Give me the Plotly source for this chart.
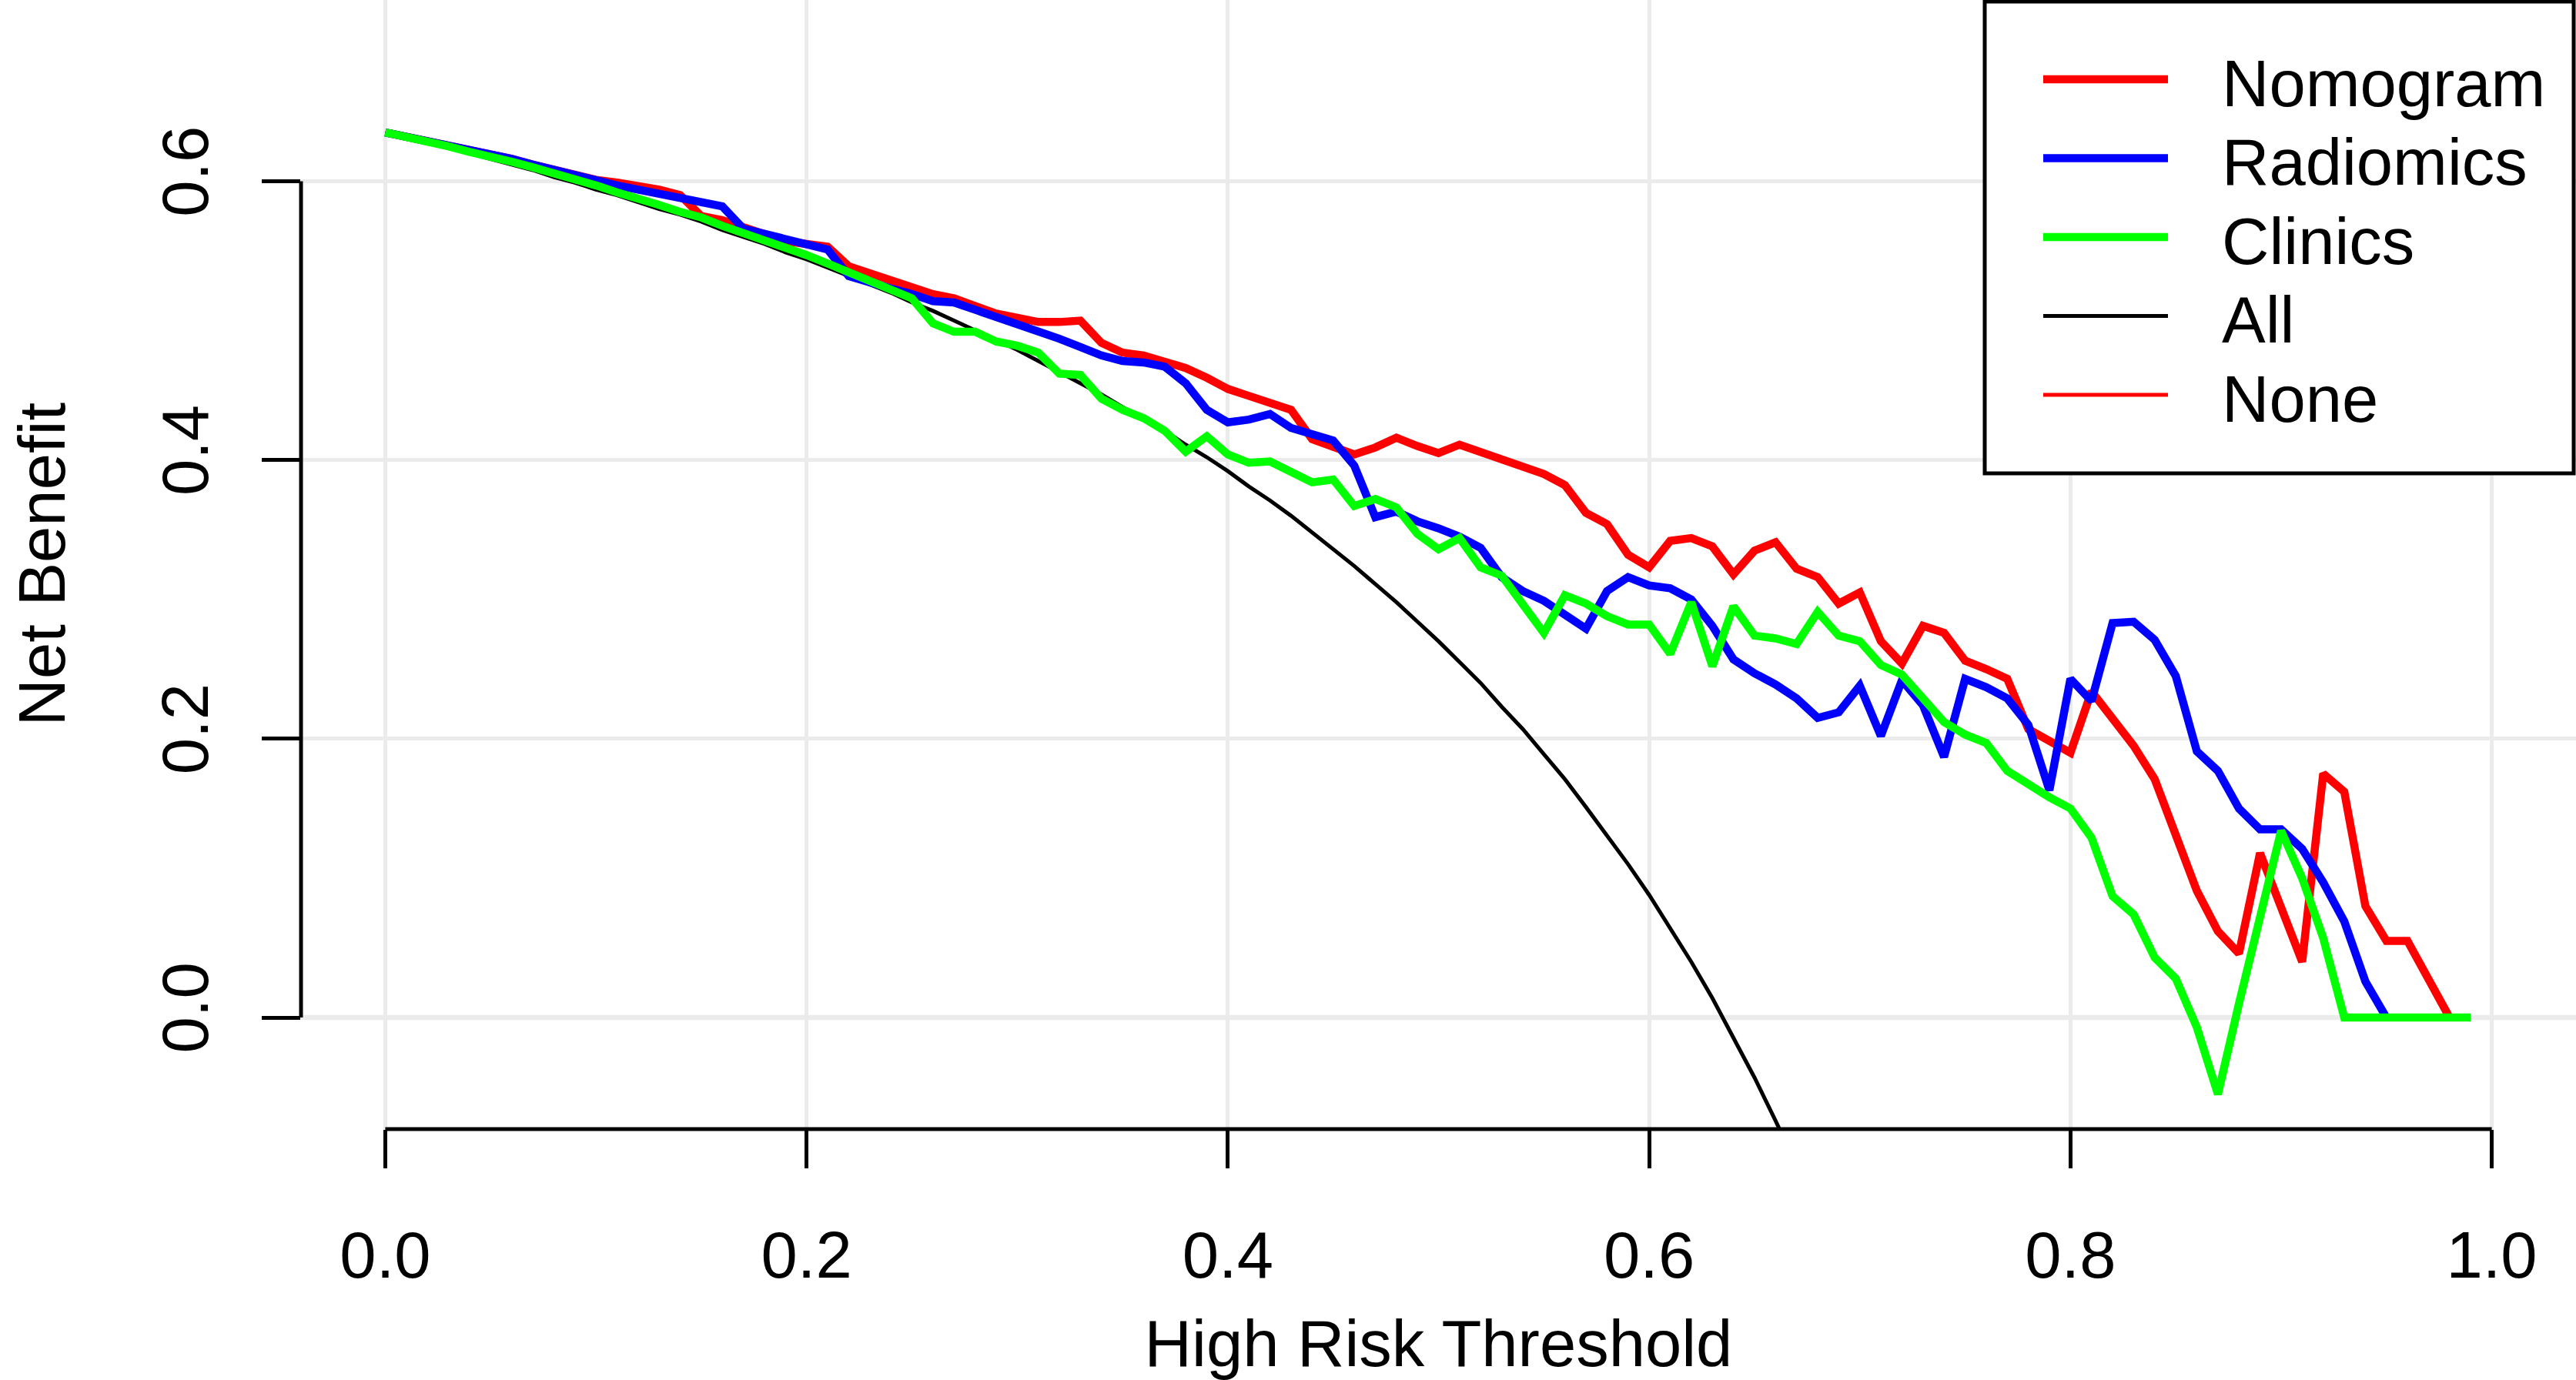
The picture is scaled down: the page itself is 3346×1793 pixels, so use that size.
import plotly.graph_objects as go

# decision curve data
thresholds = [
    0.00, 0.01, 0.02, 0.03, 0.04, 0.05, 0.06, 0.07, 0.08, 0.09,
    0.10, 0.11, 0.12, 0.13, 0.14, 0.15, 0.16, 0.17, 0.18, 0.19,
    0.20, 0.21, 0.22, 0.23, 0.24, 0.25, 0.26, 0.27, 0.28, 0.29,
    0.30, 0.31, 0.32, 0.33, 0.34, 0.35, 0.36, 0.37, 0.38, 0.39,
    0.40, 0.41, 0.42, 0.43, 0.44, 0.45, 0.46, 0.47, 0.48, 0.49,
    0.50, 0.51, 0.52, 0.53, 0.54, 0.55, 0.56, 0.57, 0.58, 0.59,
    0.60, 0.61, 0.62, 0.63, 0.64, 0.65, 0.66, 0.67, 0.68, 0.69,
    0.70, 0.71, 0.72, 0.73, 0.74, 0.75, 0.76, 0.77, 0.78, 0.79,
    0.80, 0.81, 0.82, 0.83, 0.84, 0.85, 0.86, 0.87, 0.88, 0.89,
    0.90, 0.91, 0.92, 0.93, 0.94, 0.95, 0.96, 0.97, 0.98, 0.99,
]

nomogram = [
    0.635, 0.632, 0.629, 0.626, 0.623, 0.620, 0.616, 0.612, 0.608, 0.604,
    0.601, 0.599, 0.597, 0.594, 0.590, 0.575, 0.572, 0.567, 0.562, 0.557,
    0.555, 0.553, 0.539, 0.534, 0.529, 0.524, 0.519, 0.516, 0.510, 0.505,
    0.502, 0.499, 0.499, 0.500, 0.484, 0.477, 0.475, 0.470, 0.466, 0.459,
    0.451, 0.446, 0.441, 0.436, 0.415, 0.409, 0.404, 0.409, 0.416, 0.410,
    0.405, 0.411, 0.406, 0.400, 0.396, 0.390, 0.382, 0.362, 0.354, 0.332,
    0.323, 0.342, 0.344, 0.338, 0.318, 0.335, 0.341, 0.322, 0.316, 0.297,
    0.305, 0.270, 0.254, 0.281, 0.276, 0.256, 0.250, 0.243, 0.207, 0.198,
    0.190, 0.234, 0.215, 0.195, 0.171, 0.130, 0.091, 0.062, 0.046, 0.118,
    0.079, 0.040, 0.175, 0.162, 0.080, 0.055, 0.055, 0.026, 0.000,
]

radiomics = [
    0.635, 0.632, 0.629, 0.626, 0.623, 0.620, 0.616, 0.612, 0.608, 0.604,
    0.600, 0.597, 0.594, 0.591, 0.589, 0.585, 0.582, 0.566, 0.562, 0.558,
    0.554, 0.551, 0.532, 0.527, 0.523, 0.519, 0.514, 0.513, 0.508, 0.503,
    0.498, 0.492, 0.487, 0.481, 0.475, 0.471, 0.470, 0.467, 0.455, 0.436,
    0.427, 0.429, 0.433, 0.423, 0.419, 0.414, 0.396, 0.359, 0.363, 0.356,
    0.351, 0.345, 0.337, 0.316, 0.306, 0.299, 0.289, 0.279, 0.306, 0.316,
    0.310, 0.308, 0.300, 0.281, 0.257, 0.247, 0.239, 0.229, 0.215, 0.219,
    0.238, 0.202, 0.242, 0.224, 0.187, 0.243, 0.237, 0.229, 0.210, 0.163,
    0.243, 0.227, 0.283, 0.284, 0.271, 0.245, 0.191, 0.177, 0.150, 0.135,
    0.135, 0.121, 0.097, 0.069, 0.026, 0.000,
]

clinics = [
    0.635, 0.632, 0.629, 0.625, 0.621, 0.618, 0.614, 0.610, 0.606, 0.601,
    0.597, 0.592, 0.588, 0.583, 0.578, 0.574, 0.568, 0.563, 0.558, 0.552,
    0.547, 0.541, 0.535, 0.529, 0.523, 0.516, 0.498, 0.492, 0.492, 0.485,
    0.482, 0.477, 0.462, 0.461, 0.444, 0.436, 0.430, 0.421, 0.406, 0.417,
    0.404, 0.398, 0.399, 0.392, 0.384, 0.386, 0.367, 0.372, 0.366, 0.347,
    0.336, 0.344, 0.323, 0.317, 0.296, 0.276, 0.303, 0.297, 0.288, 0.282,
    0.282, 0.261, 0.298, 0.252, 0.295, 0.274, 0.272, 0.268, 0.291, 0.274,
    0.270, 0.253, 0.246, 0.228, 0.212, 0.203, 0.197, 0.177, 0.167, 0.158,
    0.150, 0.129, 0.087, 0.074, 0.043, 0.028, -0.007, -0.055, 0.010, 0.075,
    0.134, 0.100, 0.057, 0.000, 0.000, 0.000, 0.000, 0.000, 0.000, 0.000,
]

treat_all = [
    0.635, 0.631, 0.628, 0.624, 0.620, 0.616, 0.612, 0.608, 0.603, 0.599,
    0.594, 0.590, 0.585, 0.580, 0.576, 0.571, 0.565, 0.560, 0.555, 0.549,
    0.544, 0.538, 0.532, 0.526, 0.520, 0.513, 0.507, 0.500, 0.493, 0.486,
    0.479, 0.471, 0.463, 0.455, 0.447, 0.438, 0.430, 0.421, 0.411, 0.402,
    0.392, 0.381, 0.371, 0.360, 0.348, 0.336, 0.324, 0.311, 0.298, 0.284,
    0.270, 0.255, 0.240, 0.223, 0.207, 0.189, 0.171, 0.151, 0.131, 0.110,
    0.088, 0.064, 0.040, 0.014, -0.014, -0.043, -0.074, -0.106,
]

treat_none = [0.0] * len(thresholds)

x_ticks = [0.0, 0.2, 0.4, 0.6, 0.8, 1.0]
y_ticks = [0.0, 0.2, 0.4, 0.6]
x_range = [-0.04, 1.04]
y_range = [-0.08, 0.73]

# legend order as in the original
series = [
    ("Nomogram", nomogram, "#FF0000", 10.5),
    ("Radiomics", radiomics, "#0000FF", 10.5),
    ("Clinics", clinics, "#00FF00", 10.5),
    ("All", treat_all, "#000000", 5),
    ("None", treat_none, "#FF0000", 5),
]

FONT = "Liberation Sans, Arial, sans-serif"
GRID = "#EBEBEB"
W, H = 3346, 1793
L, R, T, B = 391, 0, 0, 326


def px_x(px):
    return (px - L) / (W - L - R)


def px_y(py):
    return 1 - (py - T) / (H - T - B)


fig = go.Figure()

# "None" lies under the zero grid line in the original, so it goes first,
# then a copy of that grid line, then "All", then the three models
draw_order = [4, None, 3, 0, 1, 2]
for i in draw_order:
    if i is None:
        fig.add_trace(go.Scatter(x=x_range, y=[y_ticks[0], y_ticks[0]], mode="lines",
                                 line=dict(color=GRID, width=6.5), showlegend=False,
                                 hoverinfo="skip"))
        continue
    name, vals, col, w = series[i]
    fig.add_trace(go.Scatter(x=thresholds[:len(vals)], y=vals, mode="lines",
                             name=name, line=dict(color=col, width=w),
                             showlegend=False))

# base-R style axis lines: only between the first and last tick
fig.add_shape(type="line", xref="x", yref="paper", x0=x_ticks[0], x1=x_ticks[-1],
              y0=0, y1=0, line=dict(color="black", width=5))
fig.add_shape(type="line", xref="paper", yref="y", x0=0, x1=0,
              y0=y_ticks[0], y1=y_ticks[-1], line=dict(color="black", width=5))

# boxed legend in the top right corner, like legend("topright", ...)
fig.add_shape(type="rect", xref="paper", yref="paper",
              x0=px_x(2578), x1=px_x(3343), y0=px_y(615), y1=px_y(2),
              line=dict(color="black", width=5), fillcolor="white")
for k, (name, vals, col, w) in enumerate(series):
    row = 103 + 102.5 * k
    fig.add_shape(type="line", xref="paper", yref="paper",
                  x0=px_x(2654), x1=px_x(2816), y0=px_y(row), y1=px_y(row),
                  line=dict(color=col, width=w))
    fig.add_annotation(xref="paper", yref="paper", x=px_x(2884), y=px_y(row + 5),
                       xanchor="left", yanchor="middle", showarrow=False,
                       text=name, font=dict(family=FONT, size=85, color="black"))

# y axis label placed like R's mtext on line 3
fig.add_annotation(xref="paper", yref="paper", x=px_x(54), y=0.5,
                   xanchor="center", yanchor="middle", textangle=-90,
                   showarrow=False, text="Net Benefit",
                   font=dict(family=FONT, size=85, color="black"))

fig.update_layout(
    width=W, height=H,
    margin=dict(l=L, r=R, t=T, b=B, autoexpand=False),
    plot_bgcolor="white", paper_bgcolor="white",
    font=dict(family=FONT, size=85, color="black"),
    showlegend=False,
)
fig.update_xaxes(range=x_range, tickvals=x_ticks, tickformat=".1f",
                 ticks="outside", ticklen=50, tickwidth=5, tickcolor="black",
                 showgrid=True, gridcolor=GRID, gridwidth=5, zeroline=False,
                 showline=False, ticklabelstandoff=40, automargin=False,
                 tickfont=dict(family=FONT, size=85, color="black"),
                 title=dict(text="High Risk Threshold", standoff=62,
                            font=dict(family=FONT, size=85, color="black")))
fig.update_yaxes(range=y_range, tickvals=y_ticks, tickformat=".1f",
                 ticks="outside", ticklen=50, tickwidth=5, tickcolor="black",
                 showgrid=True, gridcolor=GRID, gridwidth=5, zeroline=False,
                 showline=False, tickangle=-90, ticklabelstandoff=36,
                 automargin=False,
                 tickfont=dict(family=FONT, size=85, color="black"))

fig.write_html("out.html", config={"displayModeBar": False},
               post_script="document.body.style.margin='0';")
